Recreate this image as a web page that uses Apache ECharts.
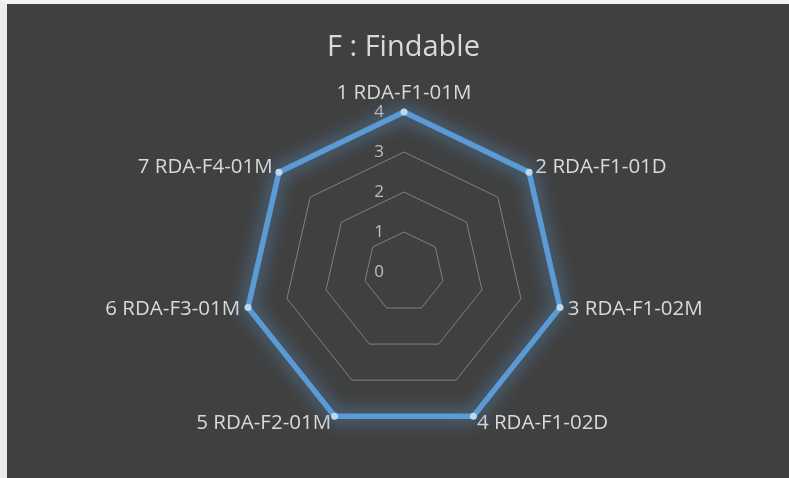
<!DOCTYPE html>
<html>
<head>
<meta charset="utf-8">
<script src="https://cdn.jsdelivr.net/npm/echarts@6/dist/echarts.min.js"></script>
<style>
html,body{margin:0;padding:0;background:#f2f2f2;}
#chart{position:absolute;left:0;top:0;width:789px;height:478px;box-sizing:border-box;border-left:7px solid #ececec;border-top:4px solid #f4f4f4;background:#404040;}
</style>
</head>
<body>
<div id="chart"></div>
<script>
const title = 'F : Findable';
const categories = ['1 RDA-F1-01M','2 RDA-F1-01D','3 RDA-F1-02M','4 RDA-F1-02D','5 RDA-F2-01M','6 RDA-F3-01M','7 RDA-F4-01M'];
const values = [4, 4, 4, 4, 4, 4, 4];
const axisMin = 0;
const axisMax = 4;
const tickCount = 4;

// ECharts radar runs counter-clockwise; reorder so categories run clockwise from the top
const order = categories.map((c, i) => (i === 0 ? 0 : categories.length - i));

const chart = echarts.init(document.getElementById('chart'), null, {renderer: 'canvas'});
const font = '"Open Sans", "Noto Sans", sans-serif';
const indicators = order.map((idx, k) => {
  const ind = {name: categories[idx], min: axisMin, max: axisMax};
  if (k === 0) ind.axisLabel = {show: true};
  return ind;
});
const orderedValues = order.map(idx => values[idx]);
chart.setOption({
  backgroundColor: '#404040',
  animation: false,
  title: {
    text: title,
    left: 315,
    top: 24,
    padding: 5,
    textStyle: {color: '#d9d9d9', fontSize: 29, fontWeight: 'normal', fontFamily: font}
  },
  radar: {
    center: [397, 268],
    radius: 160,
    startAngle: 90,
    splitNumber: tickCount,
    shape: 'polygon',
    indicator: indicators,
    axisName: {color: '#d9d9d9', fontSize: 20.5, fontFamily: font},
    nameGap: 8,
    axisLine: {show: false},
    axisTick: {show: false},
    axisLabel: {show: false, color: '#bfbfbf', fontSize: 17, fontFamily: font, margin: 20},
    splitLine: {lineStyle: {color: '#808080', width: 1}},
    splitArea: {show: false}
  },
  series: [{
    type: 'radar',
    symbol: 'circle',
    symbolSize: 7,
    lineStyle: {color: '#5b9bd5', width: 5.5, shadowBlur: 18, shadowColor: 'rgba(91,155,213,1)'},
    itemStyle: {color: '#bdd7ee', borderWidth: 0},
    data: [{value: orderedValues, name: 'F'}]
  }]
});
</script>
</body>
</html>
